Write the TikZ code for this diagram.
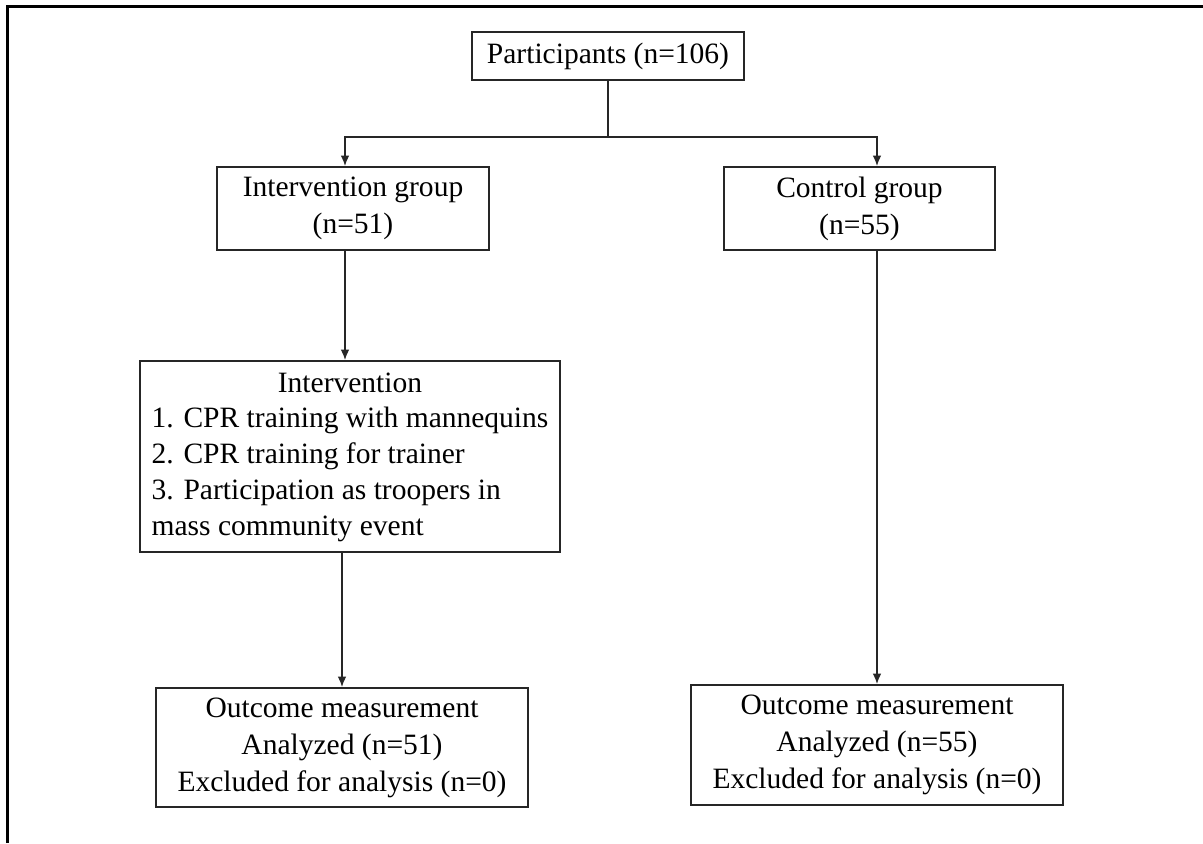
\documentclass[tikz,border=0pt]{standalone}
\usepackage{fontspec}
\setmainfont{Liberation Serif}
\usepackage{tikz}
\usetikzlibrary{arrows.meta,positioning}

\tikzset{
  flowbox/.style={draw=black!85,line width=1.1pt,align=center,inner sep=0pt,
    font=\fontsize{16.8}{21}\selectfont},
  flowline/.style={draw=black!85,line width=0.9pt},
}

\begin{document}
\begin{tikzpicture}[x=0.02cm,y=-0.02cm,>={Latex[length=6pt,width=5pt]}]
    \useasboundingbox (0,0) rectangle (1203,843);
    %/ Frame
    \draw[line width=1.4pt] (7.5,843) -- (7.5,6.5) -- (1203,6.5);

    %/ Boxes
    \node[flowbox,minimum width=5.44cm,minimum height=0.96cm] (part) at (608,56) {Participants (n=106)};
    \node[flowbox,minimum width=5.44cm,minimum height=1.66cm] (igrp) at (353,208.5) {Intervention group\\(n=51)};
    \node[flowbox,minimum width=5.42cm,minimum height=1.66cm] (cgrp) at (859.5,208.5) {Control group\\(n=55)};
    \node[flowbox,minimum width=8.4cm,minimum height=3.82cm] (intv) at (350,456.5) {%
      \renewcommand{\arraystretch}{0.97}%
      \begin{tabular}{@{}l@{}}
        \multicolumn{1}{@{}c@{}}{Intervention}\\
        1. CPR training with mannequins\\
        2. CPR training for trainer\\
        3. Participation as troopers in\\
        mass community event
      \end{tabular}};
    \node[flowbox,minimum width=7.44cm,minimum height=2.38cm] (iout) at (342,747.5) {Outcome measurement\\Analyzed (n=51)\\Excluded for analysis (n=0)};
    \node[flowbox,minimum width=7.44cm,minimum height=2.4cm] (cout) at (877,745) {Outcome measurement\\Analyzed (n=55)\\Excluded for analysis (n=0)};

    %/ Connectors
    \coordinate (split) at (608,137);
    \draw[flowline] (part.south) -- (split);
    \draw[flowline,->] (split) -| ([xshift=-0.16cm]igrp.north);
    \draw[flowline,->] (split) -| (cout.north |- cgrp.north);
    \draw[flowline,->] ([xshift=-0.16cm]igrp.south) -- ([xshift=-0.16cm]igrp.south |- intv.north);
    \draw[flowline,->] (cout.north |- cgrp.south) -- (cout.north);
    \draw[flowline,->] (iout.north |- intv.south) -- (iout.north);
\end{tikzpicture}
\end{document}
